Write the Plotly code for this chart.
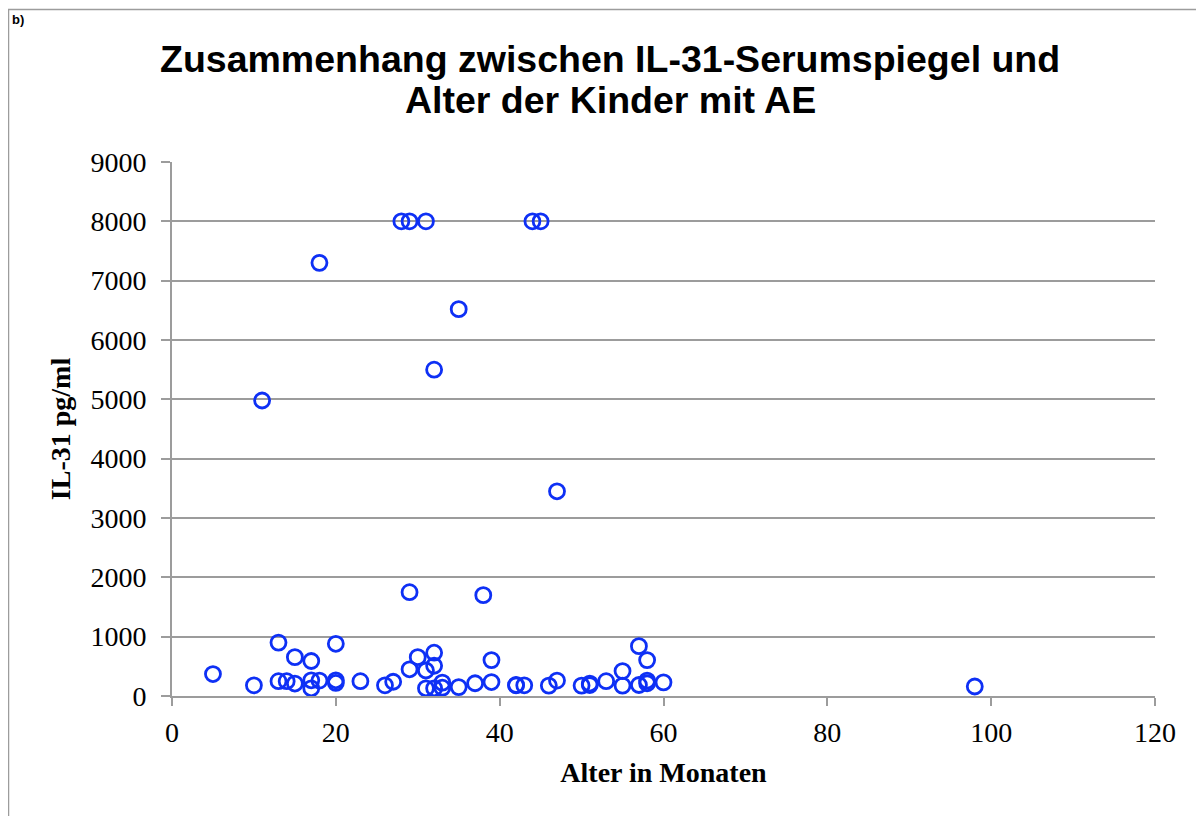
import plotly.graph_objects as go

# Data
alter_monate = [5, 10, 11, 13, 13, 14, 15, 15, 17, 17, 17, 18, 18, 20, 20, 20,
                23, 26, 27, 28, 29, 29, 29, 30, 31, 31, 31, 32, 32, 32, 32, 33,
                33, 35, 35, 37, 38, 39, 39, 42, 42, 43, 44, 45, 46, 47, 47, 50,
                51, 51, 53, 55, 55, 57, 57, 58, 58, 58, 60, 98]
il31_pg_ml = [370, 180, 4980, 900, 250, 250, 655, 210, 590, 265, 130, 7300, 260, 880, 265, 220,
              250, 180, 240, 8000, 8000, 1750, 450, 655, 8000, 430, 130, 5500, 730, 510, 130, 225,
              140, 6520, 150, 215, 1700, 605, 235, 185, 180, 180, 8000, 8000, 175, 3450, 260, 175,
              185, 210, 250, 420, 175, 840, 185, 605, 260, 215, 230, 160]

x_ticks = [0, 20, 40, 60, 80, 100, 120]
y_ticks = [0, 1000, 2000, 3000, 4000, 5000, 6000, 7000, 8000, 9000]

title_line1 = "Zusammenhang zwischen IL-31-Serumspiegel und"
title_line2 = "Alter der Kinder mit AE"
x_title = "Alter in Monaten"
y_title = "IL-31 pg/ml"

# page offset of the figure (default body margin)
OFF = 8
W, H = 1204 - OFF, 816 - OFF
PLOT_LEFT, PLOT_RIGHT, PLOT_TOP, PLOT_BOTTOM = 172, 1155, 162, 696  # page pixels
L, T = PLOT_LEFT - OFF, PLOT_TOP - OFF
R = W - (PLOT_RIGHT - OFF)
B = H - (PLOT_BOTTOM - OFF)
PW, PH = PLOT_RIGHT - PLOT_LEFT, PLOT_BOTTOM - PLOT_TOP


def px_x(p):
    return (p - PLOT_LEFT) / PW


def px_y(p):
    return (PLOT_BOTTOM - p) / PH


serif = "Liberation Serif, Times New Roman, serif"
sans = "Liberation Sans, Arial, sans-serif"
gray = "#9c9c9c"
blue = "#0e30f5"

fig = go.Figure()
fig.add_trace(go.Scatter(
    x=alter_monate, y=il31_pg_ml, mode="markers",
    marker=dict(symbol="circle-open", size=15, color=blue,
                line=dict(width=2.8, color=blue)),
    showlegend=False, hoverinfo="x+y",
))

fig.update_layout(
    width=W, height=H, autosize=False,
    margin=dict(l=L, r=R, t=T, b=B, pad=0),
    paper_bgcolor="white", plot_bgcolor="white",
    showlegend=False,
    xaxis=dict(
        range=[0, 120], tickvals=x_ticks, ticktext=[str(v) for v in x_ticks],
        showgrid=False, zeroline=False, showline=True, linecolor=gray, linewidth=2,
        ticks="outside", ticklen=8, tickwidth=2, tickcolor=gray,
        tickfont=dict(family=serif, size=28, color="black"),
        ticklabelstandoff=2,
        title=dict(text="<b>" + x_title + "</b>",
                   font=dict(family=serif, size=28, color="black"), standoff=16),
        fixedrange=True,
    ),
    yaxis=dict(
        range=[0, 9000], tickvals=y_ticks, ticktext=[str(v) for v in y_ticks],
        showgrid=True, gridcolor=gray, gridwidth=1.6,
        zeroline=False, showline=True, linecolor=gray, linewidth=2,
        ticks="outside", ticklen=9, tickwidth=2, tickcolor=gray,
        tickfont=dict(family=serif, size=28, color="black"),
        ticklabelstandoff=9,
        title=dict(text="<b>" + y_title + "</b>",
                   font=dict(family=serif, size=28, color="black"), standoff=12),
        fixedrange=True,
    ),
    annotations=[
        dict(text="<b>" + title_line1 + "</b>", xref="paper", yref="paper",
             x=px_x(610), y=px_y(59), xanchor="center", yanchor="middle",
             showarrow=False, font=dict(family=sans, size=37.5, color="black")),
        dict(text="<b>" + title_line2 + "</b>", xref="paper", yref="paper",
             x=px_x(610), y=px_y(100), xanchor="center", yanchor="middle",
             showarrow=False, font=dict(family=sans, size=37.5, color="black")),
        dict(text="<b>b)</b>", xref="paper", yref="paper",
             x=px_x(10), y=px_y(10), xanchor="left", yanchor="top",
             showarrow=False, font=dict(family=sans, size=13, color="black")),
    ],
    shapes=[
        dict(type="rect", xref="paper", yref="paper", layer="below",
             x0=px_x(8.5), x1=px_x(1215), y0=px_y(830), y1=px_y(9.5),
             line=dict(color=gray, width=1.5), fillcolor="rgba(0,0,0,0)"),
    ],
)

fig.write_html("out.html")
